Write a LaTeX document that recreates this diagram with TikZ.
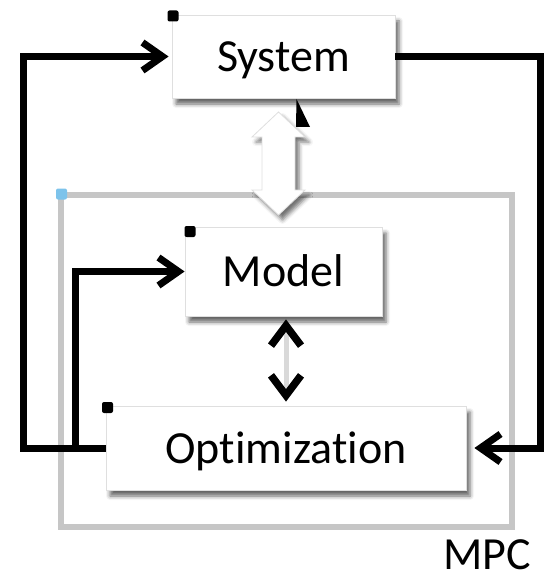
\documentclass[tikz,border=0pt]{standalone}
\usepackage{fontspec}
\setmainfont[Ligatures={NoCommon}]{Carlito}
\usetikzlibrary{arrows.meta,shadows.blur,calc}
\definecolor{framegray}{RGB}{198,198,198}
\definecolor{handleblue}{RGB}{125,195,235}
\begin{document}
\begin{tikzpicture}[x=1pt,y=-1pt]
\tikzset{
 box/.style={draw=gray!25, line width=0.8pt, fill=white,
   blur shadow={shadow xshift=4pt, shadow yshift=-6pt, shadow blur radius=4pt, shadow opacity=60},
   font=\fontsize{46}{50}\selectfont, text height=30pt, text depth=0pt, inner sep=0pt},
 conn/.style={line width=7pt, -{Straight Barb[length=20pt,width=28pt]}},
 handle/.style={fill=black, rounded corners=2pt, minimum size=11pt, inner sep=0pt},
 mpcframe/.style={draw=framegray, line width=6.5pt, inner sep=0pt},
 lbl/.style={font=\fontsize{46}{50}\selectfont, text height=30pt, text depth=0pt, inner sep=0pt},
 chevtip/.tip={Straight Barb[length=20pt,width=30pt,line width=7.5pt,color=black]},
}
\useasboundingbox (0,0) rectangle (548,580);

% MPC frame
\node[mpcframe, minimum width=451pt, minimum height=332pt] (mpc) at (286.5,361) {};
\node[lbl] (mpclbl) at (487,554) {MPC};

% coordinates for connector bends
\coordinate (rc) at (540,56.5);
\coordinate (jn) at (75,448);
\coordinate (wt) at (278.5,112);
\coordinate (wb) at (278.5,215);

% boxes
\node[box, minimum width=223pt, minimum height=83pt] (sys) at (283.5,56.5) {System};
\node[box, minimum width=197pt, minimum height=89pt] (model) at (283.5,271.5) {Model};
\node[box, minimum width=360pt, minimum height=84pt] (opt) at (286,448) {Optimization};

% black connectors
\draw[conn, shorten >=3pt] (opt.west) -- ++(-82,0) |- (sys.west);
\draw[conn] (jn) |- (model.west);
\draw[conn, shorten >=8pt] (sys.east) -- (rc) |- (opt.east);

% white double arrow between System and Model
\path[fill=white, draw=gray!25, line width=0.8pt,
  blur shadow={shadow xshift=4pt, shadow yshift=-5pt, shadow blur radius=4pt, shadow opacity=55}]
  (wt) -- ++(26.5,25) -- ++(-10,0) -- ++(0,53) -- ++(10,0) -- (wb)
  -- ++(-26.5,-25) -- ++(10,0) -- ++(0,-53) -- ++(-10,0) -- cycle;

% chevron connector between Model and Optimization
\draw[line width=5pt, gray!30, shorten <=3pt, shorten >=4pt, {chevtip}-{chevtip}]
  (model.south -| opt.north) -- (opt.north);

% small marks
\fill (296.5,99) -- (310,127) -- (296,127) -- cycle;
\node[handle] (hs) at (173,16) {};
\node[handle] (hm) at (190,231.5) {};
\node[handle] (ho) at (107.5,407.5) {};
\node[handle, fill=handleblue] (hb) at (61.5,194) {};
\end{tikzpicture}
\end{document}
